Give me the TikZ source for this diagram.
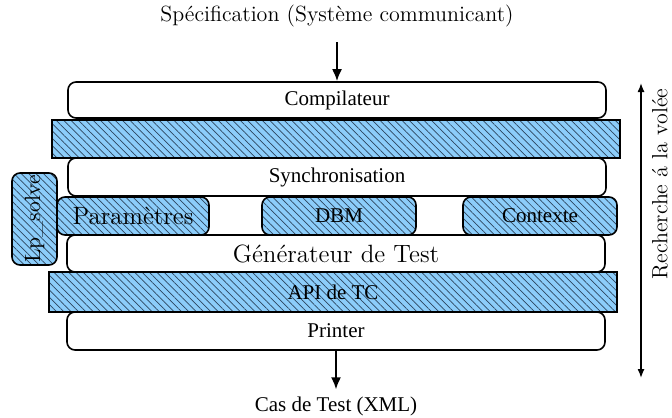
\documentclass[tikz,border=0pt]{standalone}
\usepackage{fontspec}
\newfontfamily\tms{Liberation Serif}
\usetikzlibrary{patterns.meta,arrows.meta}
\definecolor{hblue}{RGB}{140,205,250}
\definecolor{hline}{RGB}{45,70,95}
\tikzset{
  x=0.5pt, y=-0.5pt,
  wbox/.style={draw, line width=0.8pt, rounded corners=4pt, fill=white, inner sep=0pt},
  hbox/.style={draw, line width=0.8pt, inner sep=0pt, preaction={fill=hblue},
     pattern={Lines[angle=-45,distance=2.6pt,line width=0.35pt]}, pattern color=hline},
  hrbox/.style={hbox, rounded corners=4pt},
  tm/.style={font=\tms\fontsize{10.5}{12}\selectfont},
  lm/.style={font=\fontsize{11}{13}\selectfont},
  lmb/.style={font=\fontsize{12.5}{14}\selectfont},
  arr/.style={line width=1pt, -{Latex[length=6pt,width=5pt]}},
  varr/.style={line width=0.7pt, {Latex[length=4.5pt,width=3.5pt]}-{Latex[length=4.5pt,width=3.5pt]}}
}
\begin{document}
\begin{tikzpicture}
\useasboundingbox (0,0) rectangle (672,417);
\node[lm] (spec) at (337,16) {Spécification (Système communicant)};
\node[hrbox, lm, minimum width=46pt, minimum height=22.5pt, rotate=90] (lp) at (34.5,219) {Lp\_solve};
\node[wbox, tm, minimum width=269pt, minimum height=18pt] (comp) at (337,100) {Compilateur};
\node[hbox, minimum width=284pt, minimum height=19pt] (h1) at (336,139) {};
\node[wbox, tm, minimum width=269pt, minimum height=19pt] (sync) at (337,177) {Synchronisation};
\node[wbox, lmb, minimum width=269pt, minimum height=18.5pt] (gen) at (336,253.5) {Générateur de Test};
\node[hrbox, lmb, minimum width=76pt, minimum height=19pt] (par) at (133,216) {Paramètres};
\node[hrbox, tm, minimum width=77pt, minimum height=19pt] (dbm) at (339,216) {DBM};
\node[hrbox, tm, minimum width=77pt, minimum height=19pt] (ctx) at (540,216) {Contexte};
\node[hbox, tm, minimum width=284pt, minimum height=20pt] (api) at (333,292) {API de TC};
\node[wbox, tm, minimum width=269pt, minimum height=19pt] (prn) at (336,331) {Printer};
\node[tm] (cas) at (336,406) {Cas de Test (XML)};
\draw[arr, shorten <=4pt] (spec.south) -- (comp.north);
\draw[arr] (prn.south) -- (cas.north);
\coordinate (rtop) at (641,83);
\coordinate (rbot) at (641,378);
\draw[varr] (rtop) -- (rbot);
\node[lm, rotate=90] (rech) at (660,184) {Recherche á la volée};
\end{tikzpicture}
\end{document}
